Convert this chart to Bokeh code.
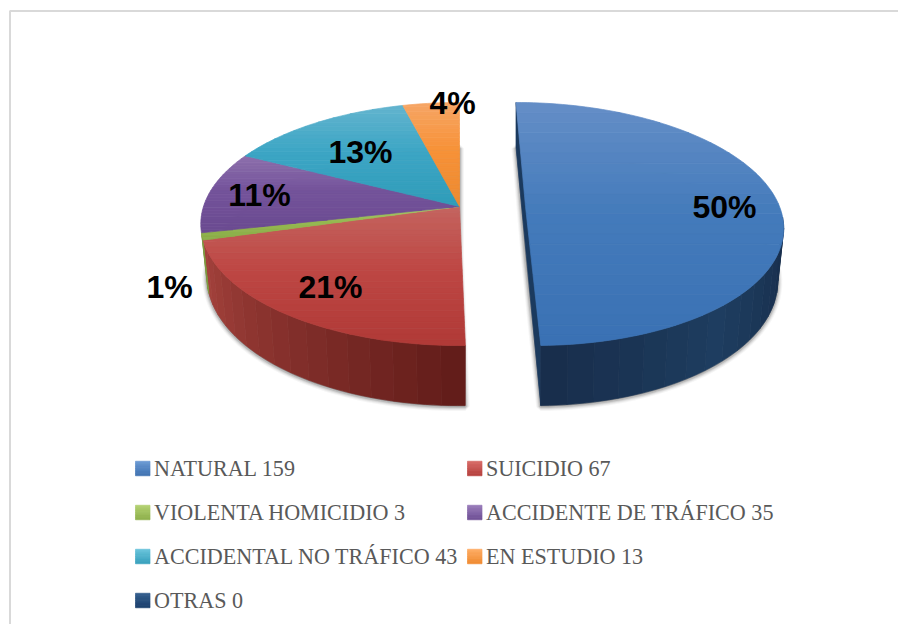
import math
from bokeh.plotting import figure
from bokeh.models import ColumnDataSource, Range1d
from bokeh.core.properties import value
from bokeh.embed import file_html
from bokeh.resources import INLINE

# ---- data
categories = ["NATURAL", "SUICIDIO", "VIOLENTA HOMICIDIO", "ACCIDENTE DE TRÁFICO",
              "ACCIDENTAL NO TRÁFICO", "EN ESTUDIO", "OTRAS"]
counts = [159, 67, 3, 35, 43, 13, 0]

# ---- styles
top_light = ["#648EC7", "#C4645F", "#A9C66D", "#8D70AC", "#63B4CE", "#F6A666", "#2F5A8E"]
top_mid = ["#447BBB", "#BE4744", "#96BA50", "#74539B", "#3DA6C5", "#F79238", "#1F497D"]
top_dark = ["#3A71B4", "#B13937", "#8AAC48", "#6A4A90", "#2F9CB9", "#EC8A30", "#1A3E6B"]
side_a = ["#172C49", "#631D1A", "#7E9A42", "#553A78", "#2C7F96", "#B96E28", "#1A3050"]
side_b = ["#1E3D60", "#A8443E", "#7E9A42", "#553A78", "#2C7F96", "#B96E28", "#1A3050"]
legend_light = ["#6D9BD6", "#D96C68", "#B5D374", "#9A7DBB", "#6AC5DD", "#FFAE66", "#35608F"]
legend_dark = ["#3F72B0", "#B53F3C", "#8DAF4A", "#6E4F95", "#38A0BC", "#F08A30", "#1B3F6C"]
LABEL_X = [724, 330, 169, 259, 360, 452]
LABEL_Y = [206, 286, 286, 194, 151, 102]

# ---- projection of the tilted disc
K = 0.144
RY, DEPTH = 119, 51.4
RX_LEFT, RX_BLUE = 256, 254
RING = 0.977
LEFT_APEX = (459, 206)
BLUE_APEX = (525, 206)
BLUE_SHEAR = 9.5
SIDE_FROM, SIDE_TO = 95.0, 257.4


def project(theta_deg, radius, apex, shear, depth=0.0):
    t = math.radians(theta_deg)
    u, v = radius * math.sin(t), radius * math.cos(t)
    w = 1 + K * v
    rx = RX_BLUE if apex is BLUE_APEX else RX_LEFT
    if depth:
        u *= RING
    return (apex[0] + rx * u / w - shear * v, apex[1] - RY * v / w + depth / w)


def lerp_hex(a, b, t):
    ca = [int(a[i:i + 2], 16) for i in (1, 3, 5)]
    cb = [int(b[i:i + 2], 16) for i in (1, 3, 5)]
    return "#%02x%02x%02x" % tuple(round(x + (y - x) * t) for x, y in zip(ca, cb))


def clip(poly, y0, y1):
    def half(pts, keep, isect):
        out = []
        for i, p in enumerate(pts):
            q = pts[(i + 1) % len(pts)]
            if keep(p):
                out.append(p)
            if keep(p) != keep(q):
                out.append(isect(p, q))
        return out
    def at(yv):
        return lambda p, q: (p[0] + (q[0] - p[0]) * (yv - p[1]) / (q[1] - p[1]), yv)
    r = half(poly, lambda p: p[1] >= y0, at(y0))
    if r:
        r = half(r, lambda p: p[1] <= y1, at(y1))
    return r


total = sum(counts)
edges = [0.0]
for c in counts:
    edges.append(edges[-1] + 360.0 * c / total)

xs, ys, cols = [], [], []


def add(poly, col):
    xs.append([p[0] for p in poly])
    ys.append([p[1] for p in poly])
    cols.append(col)


p = figure(width=898, height=624, x_range=Range1d(0, 898), y_range=Range1d(624, 0),
           output_backend="svg", toolbar_location=None, min_border=0,
           outline_line_color=None, background_fill_color="white", border_fill_color="white")
p.axis.visible = False
p.grid.visible = False

# frame of the picture
p.line([9.5, 9.5, 898], [624, 10.5, 10.5], line_color="#d9d9d9", line_width=2)


def arc(a, b, apex, shear, radius=1.0, depth=0.0):
    n = max(2, int((b - a) / 1.5) + 1)
    return [project(a + (b - a) * i / (n - 1), radius, apex, shear, depth) for i in range(n)]


# soft shadow round the two bottom faces
for (a, b, apex, shear) in [(edges[1], 360.0, LEFT_APEX, 0.0), (0.0, edges[1], BLUE_APEX, BLUE_SHEAR)]:
    poly = arc(a, b, apex, shear, depth=DEPTH)
    poly = poly + [project(0, 0, apex, shear, DEPTH)]
    sx = [q[0] for q in poly]
    sy = [q[1] + 1 for q in poly]
    for lw, al in [(9, 0.05), (7, 0.08), (5, 0.12), (3, 0.2)]:
        p.patch(sx, sy, fill_color="#555555", fill_alpha=al, line_color="#555555", line_alpha=al, line_width=lw)

# side walls, strip by strip
STRIPS = 16
for i, c in enumerate(counts):
    if c == 0:
        continue
    a0, b0 = edges[i], edges[i + 1]
    apex, shear = (BLUE_APEX, BLUE_SHEAR) if i == 0 else (LEFT_APEX, 0.0)
    a, b = max(a0, SIDE_FROM), min(b0, SIDE_TO)
    if i == 0:
        # cut wall of the exploded half
        add([project(0, 1, apex, shear), project(b0, 1, apex, shear),
             project(b0, 1, apex, shear, DEPTH), project(0, 1, apex, shear, DEPTH)], "#1B3A5E")
    if b > a:
        n = STRIPS if b - a > 20 else 3
        for s in range(n):
            t = s / n
            ta, tb = a + (b - a) * t, a + (b - a) * (s + 1) / n
            top = arc(ta, tb, apex, shear)
            bot = arc(ta, tb, apex, shear, depth=DEPTH)
            add(top + bot[::-1], lerp_hex(side_b[i], side_a[i], 1 - t if i else abs(2 * t - 1)))

# top faces, band by band
BANDS = 24
for i, c in enumerate(counts):
    if c == 0:
        continue
    a, b = edges[i], edges[i + 1]
    apex, shear = (BLUE_APEX, BLUE_SHEAR) if i == 0 else (LEFT_APEX, 0.0)
    poly = arc(a, b, apex, shear) + [project(0, 0, apex, shear)]
    y_lo = min(q[1] for q in poly)
    y_hi = max(q[1] for q in poly)
    for s in range(BANDS):
        t0, t1 = s / BANDS, (s + 1) / BANDS
        piece = clip(poly, y_lo + (y_hi - y_lo) * t0, y_lo + (y_hi - y_lo) * t1)
        if len(piece) < 3:
            continue
        tm = (t0 + t1) / 2
        col = lerp_hex(top_light[i], top_mid[i], tm / 0.45) if tm < 0.45 else lerp_hex(top_mid[i], top_dark[i], (tm - 0.45) / 0.55)
        add(piece, col)

# legend swatches
leg_col = [135, 467]
leg_row = [468, 512, 556, 600]
SW = 14.5
order = [(0, 0), (1, 0), (0, 1), (1, 1), (0, 2), (1, 2), (0, 3)]
tx, ty, tt = [], [], []
for i, (cc, rr) in enumerate(order):
    x0 = leg_col[cc]
    yc = leg_row[rr]
    n = 6
    for s in range(n):
        y0 = yc - SW / 2 + SW * s / n
        y1 = yc - SW / 2 + SW * (s + 1) / n
        add([(x0, y0), (x0 + SW, y0), (x0 + SW, y1), (x0, y1)],
            lerp_hex(legend_light[i], legend_dark[i], (s + .5) / n))
    tx.append(x0 + 18.5)
    ty.append(yc - 0.5)
    tt.append("%s %d" % (categories[i], counts[i]))

src = ColumnDataSource(dict(xs=xs, ys=ys, c=cols))
p.patches("xs", "ys", source=src, fill_color="c", line_color="c", line_width=0.7)

# percent labels
labels = ["%d%%" % round(100 * c / total) for c in counts if c > 0]
p.text(LABEL_X, LABEL_Y, text=labels, text_font=value("Liberation Sans"), text_font_style="bold",
       text_font_size="32px", text_color="#000000", text_align="center", text_baseline="middle")

p.text(tx, ty, text=tt, text_font=value("Liberation Serif"), text_font_size="22.1px",
       text_color="#595959", text_align="left", text_baseline="middle")

open("out.html", "w").write(file_html(p, INLINE))
